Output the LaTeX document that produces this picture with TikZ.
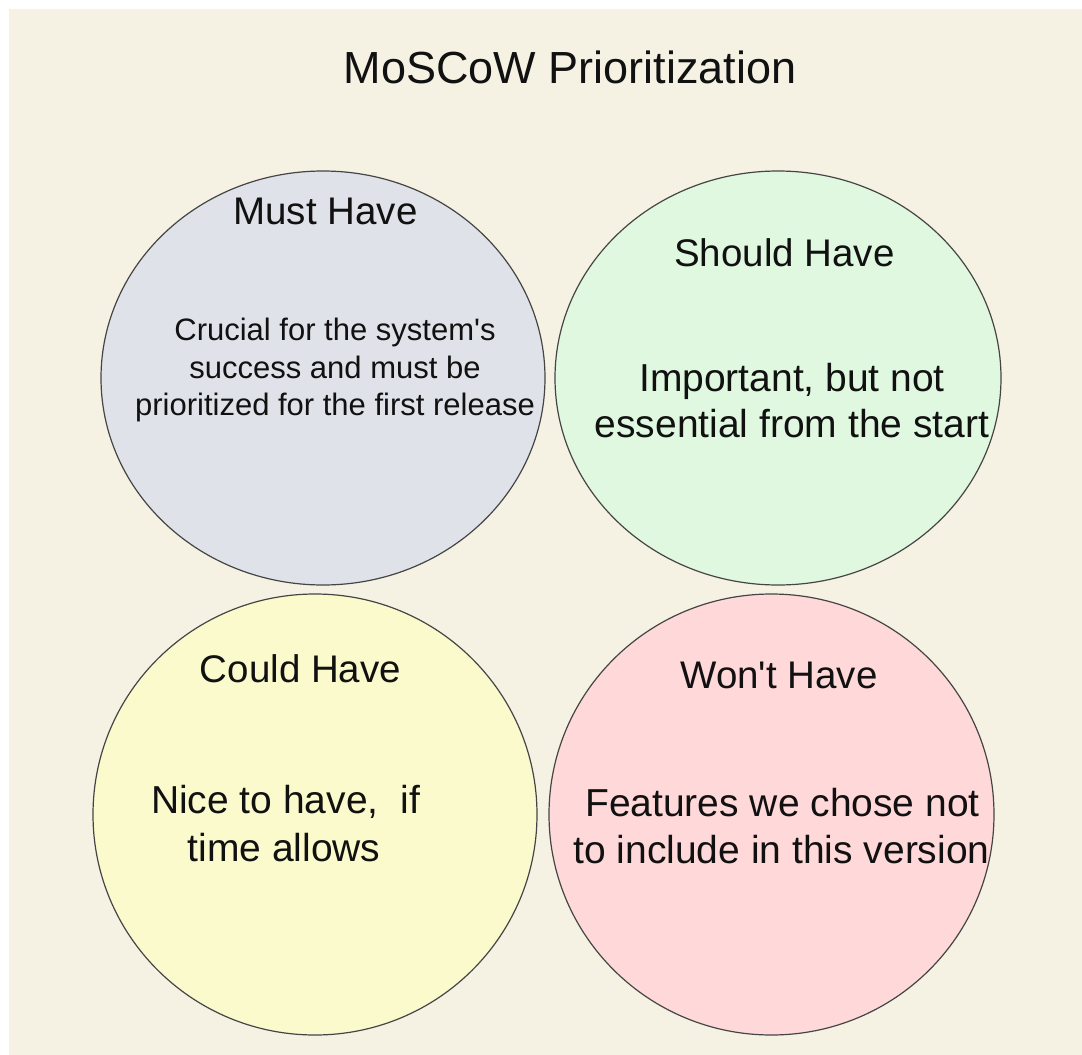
\documentclass[tikz,border=0pt]{standalone}
\usepackage{fontspec}
\setmainfont{Liberation Sans}
\usetikzlibrary{shapes.geometric}

\definecolor{paper}{HTML}{F5F2E3}
\definecolor{mustfill}{HTML}{DFE2E8}
\definecolor{shouldfill}{HTML}{E0F8E0}
\definecolor{couldfill}{HTML}{FAFACC}
\definecolor{wontfill}{HTML}{FFD8D9}
\definecolor{rim}{HTML}{454545}
\definecolor{ink}{HTML}{111111}

\tikzset{
  bubble/.style={ellipse, draw=rim, line width=1.2pt, inner sep=0pt},
  heading/.style={anchor=base, inner sep=0pt, text=ink,
    font=\fontsize{38.5}{46}\selectfont},
  bodyline/.style={anchor=base, inner sep=0pt, text=ink,
    font=\fontsize{39}{47}\selectfont},
  smallline/.style={anchor=base, inner sep=0pt, text=ink,
    font=\fontsize{31}{37}\selectfont},
}

\begin{document}
\begin{tikzpicture}[x=1pt, y=-1pt]
  \useasboundingbox (0,0) rectangle (1082,1055);
  \fill[paper] (9,9) rectangle (1082,1055);

  % title
  \node[anchor=base, inner sep=0pt, text=ink,
        font=\fontsize{45}{54}\selectfont] (title) at (570,83) {MoSCoW Prioritization};

  % the four categories
  \node[bubble, fill=mustfill,   minimum width=444pt, minimum height=414pt] (must)   at (323,378)   {};
  \node[bubble, fill=shouldfill, minimum width=446pt, minimum height=414pt] (should) at (778,378)   {};
  \node[bubble, fill=couldfill,  minimum width=444pt, minimum height=441pt] (could)  at (315,814.5) {};
  \node[bubble, fill=wontfill,   minimum width=445pt, minimum height=441pt] (wont)   at (771.5,814.5) {};

  % Must Have
  \node[heading] (mustT) at (325.5,224) {Must Have};
  \node[smallline] (mustA) at (335,340) {Crucial for the system\textquotesingle s};
  \node[smallline] (mustB) at (335,378) {success and must be};
  \node[smallline] (mustC) at (335,415) {prioritized for the first release};

  % Should Have
  \node[heading] (shouldT) at (784.5,266) {Should Have};
  \node[bodyline] (shouldA) at (792,391) {Important, but not};
  \node[bodyline] (shouldB) at (792,437) {essential from the start};

  % Could Have
  \node[heading] (couldT) at (300.5,682) {Could Have};
  \node[bodyline] (couldA) at (285.5,813) {Nice to have,\ \ if};
  \node[bodyline] (couldB) at (284,861) {time allows};

  % Won't Have
  \node[heading] (wontT) at (779,688) {Won\textquotesingle t Have};
  \node[bodyline] (wontA) at (782.5,816) {Features we chose not};
  \node[bodyline] (wontB) at (781.5,863) {to include in this version};
\end{tikzpicture}
\end{document}
